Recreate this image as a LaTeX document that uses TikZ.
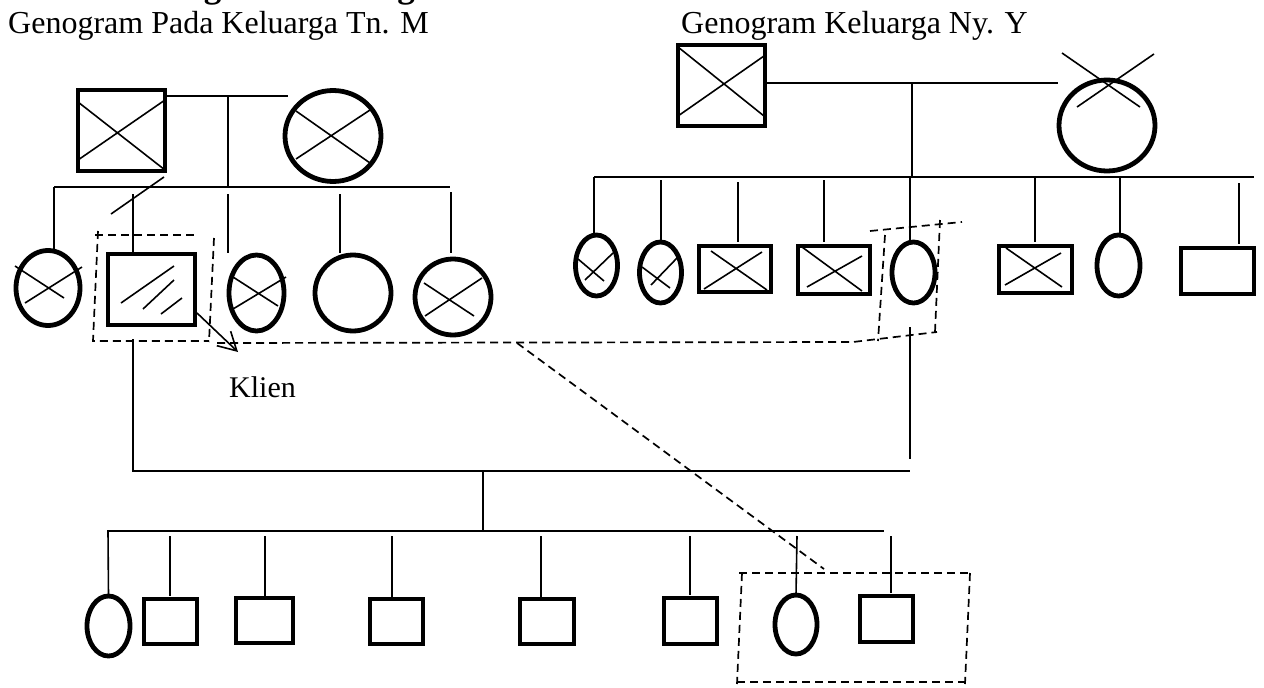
\documentclass[tikz,border=0pt]{standalone}
\usepackage{fontspec}
\setmainfont{Liberation Serif}
\usetikzlibrary{shapes.geometric,arrows.meta}
\tikzset{
  pers/.style={draw, line width=4.8pt, inner sep=0pt, outer sep=0pt},
  male/.style={pers, rectangle, minimum width=#1},
  female/.style={pers, ellipse},
  rel/.style={line width=1.6pt},
  crossline/.style={line width=1.6pt},
  dsh/.style={line width=1.7pt, dash pattern=on 8pt off 5pt},
  title/.style={anchor=base west, inner sep=0pt, font=\fontsize{32}{36}\selectfont}
}
\begin{document}
\begin{tikzpicture}[x=1pt,y=-1pt]
\useasboundingbox (0,0) rectangle (1264,688);
\clip (0,0) rectangle (1264,688);
\fill[white] (0,0) rectangle (1264,688);

% headings
\node[title, font=\fontsize{35}{40}\selectfont\bfseries] (head) at (124,-2) {Genogram Keluarga};
\node[title] (t1) at (8,34) {Genogram Pada Keluarga Tn. M};
\node[title] (t2) at (681,34) {Genogram Keluarga Ny. Y};

% ---------------- family of Tn. M ----------------
\node[male=87pt, minimum height=81pt] (lgf) at (121.5,130.5) {};
\node[female, minimum width=96pt, minimum height=91pt] (lgm) at (333,136) {};
\draw[crossline] (78,102) -- (165,170) (78,160) -- (165,100);
\draw[crossline] (296,111) -- (370,163) (296,159) -- (370,110);

\node[female, minimum width=64pt, minimum height=75pt] (lc1) at (48,288) {};
\node[male=87pt, minimum height=71pt] (klien) at (151.5,289.5) {};
\node[female, minimum width=55pt, minimum height=76pt] (lc3) at (256.5,293) {};
\node[female, minimum width=76pt, minimum height=76pt] (lc4) at (353,293) {};
\node[female, minimum width=76pt, minimum height=76pt] (lc5) at (453,297) {};
\draw[crossline] (15,266) -- (64,298) (25,303) -- (82,267);
\draw[crossline] (121,303) -- (174,266) (143,309) -- (174,280) (161,314) -- (182,298);
\draw[crossline] (233,277) -- (278,306) (233,309) -- (286,277);
\draw[crossline] (424,283) -- (474,316) (425,316) -- (482,278);

\coordinate (lmar) at (288,96);
\coordinate (lmid) at (228,96);
\coordinate (lsibL) at (54,187);
\coordinate (lsibR) at (450,187);
\draw[rel] (lgf.east |- lmar) -- (lmar);
\draw[rel] (lmid) -- (lmid |- lsibL);
\draw[rel] (lsibL) -- (lsibR);
\draw[rel] (lsibL) -- (lsibL |- lc1.north);
\draw[rel] (133,194) -- (133,252);
\draw[rel] (228,194) -- (228,253);
\draw[rel] (340,194) -- (340,253);
\draw[rel] (451,192) -- (451,253);
\draw[rel] (164,177) -- (111,214);

% ---------------- family of Ny. Y ----------------
\node[male=87pt, minimum height=81pt] (rgf) at (721.5,85.5) {};
\node[female, minimum width=96pt, minimum height=91pt] (rgm) at (1107,125.5) {};
\draw[crossline] (678,47) -- (764,116) (678,116) -- (764,56);
\draw[crossline] (1062,53) -- (1140,107) (1077,107) -- (1154,54);

\node[female, minimum width=42pt, minimum height=61pt] (rc1) at (596.5,265.5) {};
\node[female, minimum width=42pt, minimum height=61pt] (rc2) at (660.5,272.5) {};
\node[male=72pt, minimum height=46pt] (rc3) at (735,269) {};
\node[male=72pt, minimum height=48pt] (rc4) at (834,270) {};
\node[female, minimum width=43pt, minimum height=61pt] (rc5) at (913.5,272.5) {};
\node[male=73pt, minimum height=47pt] (rc6) at (1035.5,269.5) {};
\node[female, minimum width=43pt, minimum height=61pt] (rc7) at (1118.5,265.5) {};
\node[male=73pt, minimum height=46pt] (rc8) at (1217.5,271) {};
\draw[crossline] (578,259) -- (604,281) (585,280) -- (613,253);
\draw[crossline] (642,267) -- (670,288) (651,285) -- (677,258);
\draw[crossline] (704,289) -- (762,252) (711,251) -- (767,290);
\draw[crossline] (802,247) -- (862,291) (807,287) -- (862,256);
\draw[crossline] (1006,248) -- (1062,287) (1005,285) -- (1061,253);

\coordinate (rmar) at (1058,83);
\coordinate (rmid) at (912,83);
\coordinate (rsibL) at (594,177);
\coordinate (rsibR) at (1254,177);
\draw[rel] (rgf.east |- rmar) -- (rmar);
\draw[rel] (rmid) -- (rmid |- rsibL);
\draw[rel] (rsibL) -- (rsibR);
\draw[rel] (rsibL) -- (594,233);
\draw[rel] (661,180) -- (661,240);
\draw[rel] (738,182) -- (738,242);
\draw[rel] (824,180) -- (824,242);
\draw[rel] (910,177) -- (910,240);
\draw[rel] (1035,177) -- (1035,242);
\draw[rel] (1120,177) -- (1120,233);
\draw[rel] (1239,183) -- (1239,244);

% ---------------- marriage of the client ----------------
\coordinate (cL) at (133,471);
\coordinate (cR) at (910,471);
\coordinate (cmid) at (483,471);
\coordinate (bsibL) at (107,531);
\coordinate (bsibR) at (884,531);
\draw[rel] (133,339) -- (cL) -- (cR);
\draw[rel] (910,327) -- (910,459);
\draw[rel] (cmid) -- (cmid |- bsibL);
\draw[rel] (bsibL) -- (bsibR);

\node[female, minimum width=43pt, minimum height=60pt] (b1) at (108.5,626) {};
\node[male=53pt, minimum height=45pt] (b2) at (170.5,621.5) {};
\node[male=57pt, minimum height=45pt] (b3) at (264.5,620.5) {};
\node[male=53pt, minimum height=45pt] (b4) at (396.5,621.5) {};
\node[male=54pt, minimum height=45pt] (b5) at (547,621.5) {};
\node[male=53pt, minimum height=46pt] (b6) at (690.5,621) {};
\node[female, minimum width=42pt, minimum height=59pt] (b7) at (796,624.5) {};
\node[male=53pt, minimum height=46pt] (b8) at (886.5,619) {};
\draw[rel] (108,531) -- (b1.north);
\draw[rel] (170,536) -- (170,596);
\draw[rel] (265,536) -- (265,596);
\draw[rel] (392,536) -- (392,597);
\draw[rel] (541,536) -- (541,597);
\draw[rel] (690,536) -- (690,595);
\draw[rel] (797,536) -- (b7.north);
\draw[rel] (891,536) -- (891,593);

% ---------------- dashed markings ----------------
\draw[dsh] (95,235) -- (197,235);
\draw[dsh] (98,231) -- (93,341) -- (209,341);
\draw[dsh] (214,238) -- (209,342);
\coordinate (arrS) at (197,313);
\coordinate (arrT) at (238,352);
\draw[rel, -{Straight Barb[length=18pt,width=20pt,line width=1.6pt]}] (arrS) -- (arrT);

\coordinate (lnS) at (217,343);
\coordinate (brk) at (517,343);
\coordinate (lnE) at (853,342);
\coordinate (dbR) at (937,332);
\coordinate (diagE) at (824,569);
\draw[dsh] (lnS) -- (lnE) -- (dbR);
\draw[dsh] (brk) -- (diagE);
\draw[dsh] (870,231) -- (962,222);
\draw[dsh] (885,235) -- (878,341);
\draw[dsh] (940,220) -- (935,332);

\draw[dsh] (739,573) -- (970,573);
\draw[dsh] (742,573) -- (737,684);
\draw[dsh] (970,573) -- (965,684);
\draw[dsh] (737,682) -- (967,682);

\node[anchor=base west, inner sep=0pt, font=\fontsize{30}{34}\selectfont] (klienlbl) at (229,397) {Klien};
\end{tikzpicture}
\end{document}
